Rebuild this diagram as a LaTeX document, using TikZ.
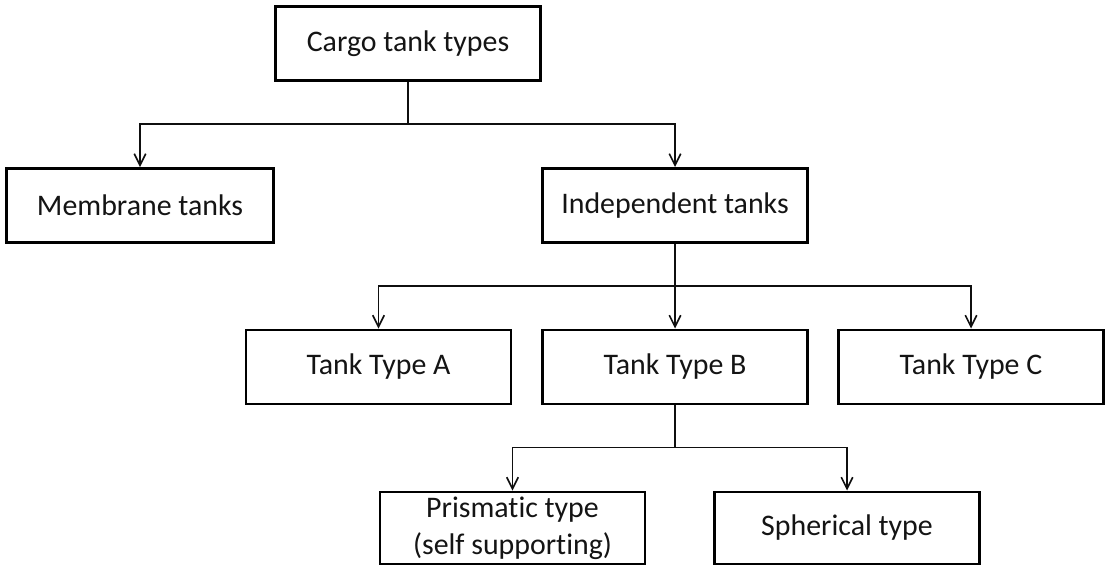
\documentclass[tikz,border=0pt]{standalone}
\usepackage{fontspec}
\setmainfont{Carlito}[Ligatures=NoCommon]
\usepackage{tikz}
\usetikzlibrary{arrows.meta}
\definecolor{borderblack}{RGB}{0, 0, 0}
\definecolor{linkblack}{RGB}{15, 15, 15}
\definecolor{labelblack}{RGB}{20, 20, 20}

\begin{document}
\begin{tikzpicture}[
        tankbox/.style={rectangle, draw=borderblack, line width=1.7pt, minimum width=5.3cm, minimum height=1.48cm, inner sep=0pt, fill=white, text=labelblack, font=\fontsize{17}{21}\selectfont, align=center},
        lowbox/.style={tankbox, minimum height=1.44cm},
        link/.style={-{Straight Barb[length=6.5pt, width=6.5pt]}, line width=0.95pt, color=linkblack}
    ]
    \useasboundingbox (0,0) rectangle (22.16,11.36);

    % Top level
    \node[tankbox] (cargo) at (8.16, 10.49) {Cargo tank types};

    % Second level
    \node[tankbox, minimum width=5.34cm] (membrane) at (2.8, 7.25) {Membrane tanks};
    \node[tankbox] (indep) at (13.5, 7.25) {Independent tanks};

    % Independent tank types
    \node[tankbox] (typeA) at (7.57, 4.02) {Tank Type A};
    \node[tankbox] (typeB) at (13.5, 4.02) {Tank Type B};
    \node[tankbox] (typeC) at (19.42, 4.02) {Tank Type C};

    % Type B variants
    \node[lowbox] (prism) at (10.25, 0.8) {Prismatic type\\(self supporting)};
    \node[lowbox] (spher) at (16.94, 0.8) {Spherical type};

    % Connectors
    \draw[link] (cargo.south) -- ++(0,-0.84) -| (membrane.north);
    \draw[link] (cargo.south) -- ++(0,-0.84) -| (indep.north);

    \draw[link] (indep.south) -- ++(0,-0.84) -| (typeA.north);
    \draw[link] (indep.south) -- (typeB.north);
    \draw[link] (indep.south) -- ++(0,-0.84) -| (typeC.north);

    \draw[link] (typeB.south) -- ++(0,-0.84) -| (prism.north);
    \draw[link] (typeB.south) -- ++(0,-0.84) -| (spher.north);

\end{tikzpicture}
\end{document}
